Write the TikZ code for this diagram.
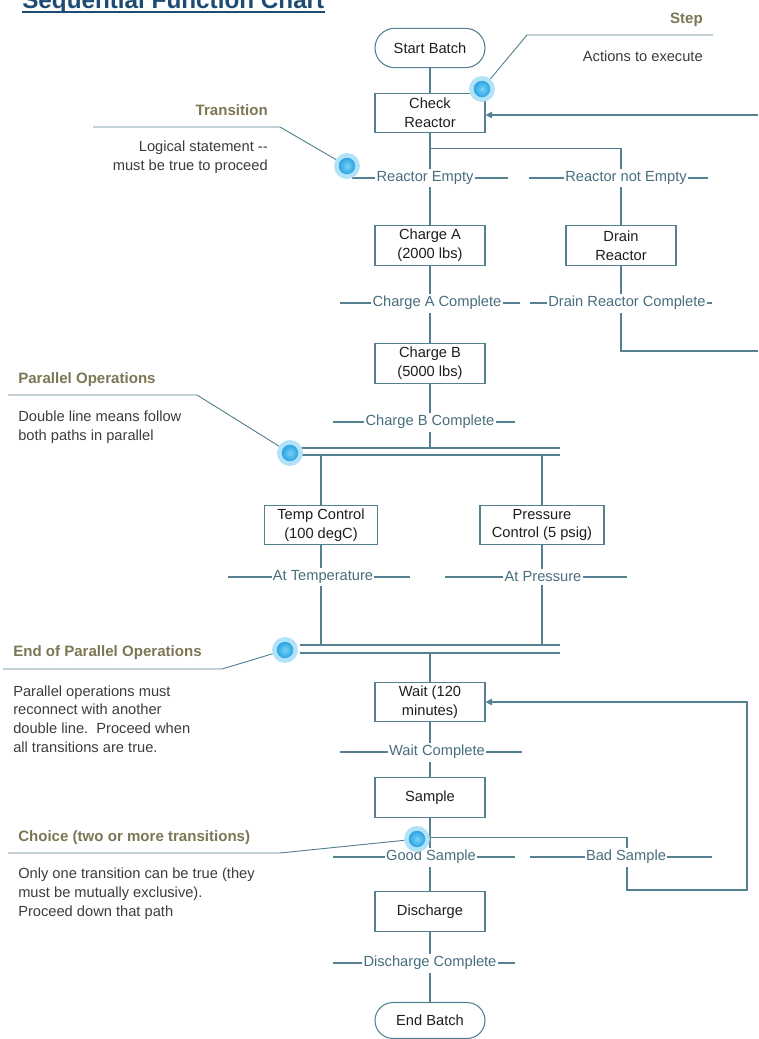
\documentclass[tikz,border=0pt]{standalone}
\usepackage{fontspec}
\setmainfont{Liberation Sans}
\usepackage{tikz}
\usetikzlibrary{positioning,calc,arrows.meta}

\definecolor{sfcline}{RGB}{84,128,145}
\definecolor{transtext}{RGB}{72,110,126}
\definecolor{boxtext}{RGB}{30,30,30}
\definecolor{headcol}{RGB}{125,118,85}
\definecolor{notecol}{RGB}{60,60,60}
\definecolor{titleblue}{RGB}{30,75,115}
\definecolor{dotblue}{RGB}{20,150,220}
\definecolor{dotlight}{RGB}{120,210,248}
\definecolor{dothalo}{RGB}{178,226,248}

\begin{document}
\begin{tikzpicture}[
    x=0.75pt, y=-0.75pt,
    font=\fontsize{11}{14}\selectfont,
    stepbox/.style={rectangle, draw=sfcline, fill=white, line width=0.8pt, minimum width=82.5pt, minimum height=29.5pt, align=center, text=boxtext, inner sep=1pt},
    endbox/.style={stepbox, rounded corners=14.75pt},
    translabel/.style={fill=white, text=transtext, inner xsep=1pt, inner ysep=2pt},
    wire/.style={draw=sfcline, line width=0.8pt},
    arrow/.style={wire, -{Triangle[length=5pt, width=5pt]}},
    callhead/.style={font=\bfseries\fontsize{11.3}{14}\selectfont, text=headcol, inner sep=0},
    callnote/.style={text=notecol, align=left, inner sep=0},
    leader/.style={draw=sfcline, line width=0.7pt},
    bluedot/.style={circle, inner sep=0, minimum size=16pt, inner color=dotlight, outer color=dotblue, draw=dothalo, line width=3.4pt}
]
    \useasboundingbox (0,0) rectangle (758,1039);

    % title (cut at the top edge)
    \node[anchor=base west, inner sep=0, font=\bfseries\fontsize{18.2}{20}\selectfont, text=titleblue] (title) at (22,8) {Sequential Function Chart};
    \draw[titleblue, line width=1.5pt] ([yshift=-3pt]title.base west) -- ([yshift=-3pt]title.base east);

    % steps
    \node[endbox] (start) at (430,48) {Start Batch};
    \node[stepbox] (check) at (430,113) {Check\\Reactor};
    \node[stepbox] (chargeA) at (430,245.5) {Charge A\\(2000 lbs)};
    \node[stepbox] (drain) at (621,245.5) {Drain\\Reactor};
    \node[stepbox] (chargeB) at (430,363.5) {Charge B\\(5000 lbs)};
    \node[stepbox, minimum width=84.75pt] (temp) at (321,525) {Temp Control\\(100 degC)};
    \node[stepbox, minimum width=93pt] (press) at (542,525) {Pressure\\Control (5 psig)};
    \node[stepbox] (wait) at (430,702) {Wait (120\\minutes)};
    \node[stepbox] (sample) at (430,797.5) {Sample};
    \node[stepbox] (discharge) at (430,911.5) {Discharge};
    \node[endbox, minimum height=27pt, rounded corners=13.5pt] (finish) at (430,1020.5) {End Batch};

    % loose ends and corners
    \coordinate (drainout) at (758,351);
    \coordinate (checkin) at (758,115);
    \coordinate (badturn) at (627,890);
    \coordinate (waitback) at (747,890);
    \coordinate (splittop) at (0,448);
    \coordinate (splitbot) at (0,455);
    \coordinate (jointop) at (0,645);
    \coordinate (joinbot) at (0,653);

    % flow
    \draw[wire] (start) -- (check);
    \draw[wire] (check) -- (chargeA);
    \draw[wire] (check.south) -- ++(0,15) -| (drain.north);
    \draw[wire] (chargeA) -- (chargeB);
    \draw[wire] (drain.south) |- (drainout);
    \draw[arrow] (checkin) -- (check.east |- checkin);
    \draw[wire] (chargeB.south) -- (chargeB.south |- splittop);

    % double lines
    \draw[wire] (290,448) -- (560,448) (290,455) -- (560,455);
    \draw[wire] (300,645) -- (560,645) (300,653) -- (560,653);

    \draw[wire] (temp.north |- splitbot) -- (temp);
    \draw[wire] (press.north |- splitbot) -- (press);
    \draw[wire] (temp) -- (temp.south |- jointop);
    \draw[wire] (press) -- (press.south |- jointop);
    \draw[wire] (wait.north |- joinbot) -- (wait);
    \draw[wire] (wait) -- (sample);
    \draw[wire] (sample) -- (discharge);
    \draw[wire] (discharge) -- (finish);
    \draw[arrow] (sample.south) -- ++(0,20) -| (badturn) -- (waitback) |- (wait.east);

    % transitions
    \draw[wire] (352,178) -- (508,178);
    \node[translabel] (tempty) at (425,178) {Reactor Empty};
    \draw[wire] (529,178) -- (708,178);
    \node[translabel] (tnotempty) at (626,178) {Reactor not Empty};
    \draw[wire] (340,303) -- (520,303);
    \node[translabel] (tchargeA) at (437,303) {Charge A Complete};
    \draw[wire] (530,303) -- (712,303);
    \node[translabel] (tdrain) at (627,303) {Drain Reactor Complete};
    \draw[wire] (333,422) -- (515,422);
    \node[translabel] (tchargeB) at (430,422) {Charge B Complete};
    \draw[wire] (228,577) -- (410,577);
    \node[translabel] (ttemp) at (323,577) {At Temperature};
    \draw[wire] (445,577) -- (627,577);
    \node[translabel] (tpress) at (543,577) {At Pressure};
    \draw[wire] (340,752) -- (522,752);
    \node[translabel] (twait) at (437,752) {Wait Complete};
    \draw[wire] (333,857) -- (515,857);
    \node[translabel] (tgood) at (431,857) {Good Sample};
    \draw[wire] (530,857) -- (712,857);
    \node[translabel] (tbad) at (626,857) {Bad Sample};
    \draw[wire] (333,963) -- (515,963);
    \node[translabel] (tdischarge) at (430,963) {Discharge Complete};

    % call-outs (multi-line notes sit on the baseline of their last line)
    \node[callhead, anchor=base east] (stephead) at (703,23.5) {Step};
    \node[callnote, anchor=base east] (stepnote) at (703,61) {Actions to execute};
    \node[callhead, anchor=base east] (transhead) at (268,115) {Transition};
    \node[callnote, anchor=base east, align=right] (transnote) at (268,170.5) {Logical statement -{}-\\must be true to proceed};
    \node[callhead, anchor=base west] (parhead) at (18,383) {Parallel Operations};
    \node[callnote, anchor=base west] (parnote) at (18,440) {Double line means follow\\both paths in parallel};
    \node[callhead, anchor=base west] (endparhead) at (13,656.5) {End of Parallel Operations};
    \node[callnote, anchor=base west] (endparnote) at (13,752) {Parallel operations must\\reconnect with another\\double line.\ \ Proceed when\\all transitions are true.};
    \node[callhead, anchor=base west] (choicehead) at (18,841) {Choice (two or more transitions)};
    \node[callnote, anchor=base west] (choicenote) at (18,916) {Only one transition can be true (they\\must be mutually exclusive).\\Proceed down that path};

    \coordinate (stepbend) at (527,35);
    \coordinate (stepend) at (713,35);
    \coordinate (transbend) at (280,127);
    \coordinate (transend) at (93,127);
    \coordinate (parbend) at (197,395);
    \coordinate (parend) at (8,395);
    \coordinate (endparbend) at (222,669);
    \coordinate (endparend) at (3,669);
    \coordinate (choicebend) at (280,853);
    \coordinate (choiceend) at (8,853);

    \node[bluedot] (stepdot) at (482,89) {};
    \node[bluedot] (transdot) at (347,166) {};
    \node[bluedot] (pardot) at (290,453) {};
    \node[bluedot] (endpardot) at (285,650) {};
    \node[bluedot] (choicedot) at (417,839) {};

    \draw[leader] (stepdot) -- (stepbend) -- (stepend);
    \draw[leader] (transdot) -- (transbend) -- (transend);
    \draw[leader] (pardot) -- (parbend) -- (parend);
    \draw[leader] (endpardot) -- (endparbend) -- (endparend);
    \draw[leader] (choicedot) -- (choicebend) -- (choiceend);
\end{tikzpicture}
\end{document}
